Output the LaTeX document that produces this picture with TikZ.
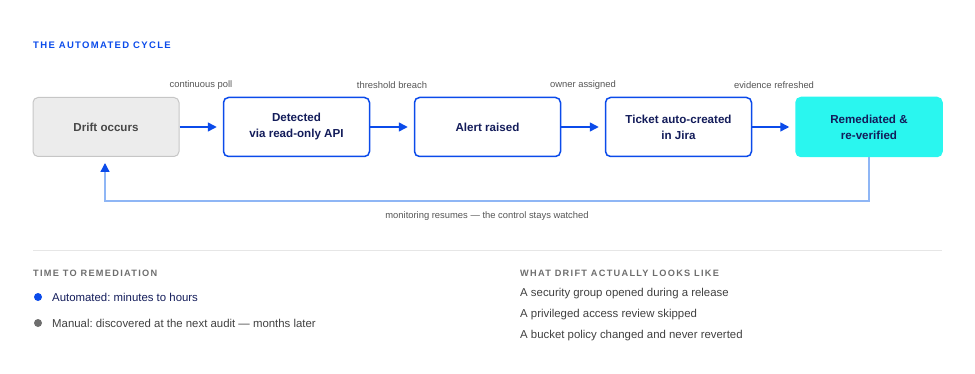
\documentclass[tikz,border=0pt]{standalone}
\usepackage{fontspec}
\setmainfont{Liberation Sans}
\newfontfamily\capsfont[LetterSpace=14]{Liberation Sans}
\usetikzlibrary{arrows.meta}
\frenchspacing
\definecolor{cblue}{HTML}{0B4BEA}
\definecolor{cnavy}{HTML}{131C5A}
\definecolor{clight}{HTML}{8FB6F5}
\definecolor{cgrayfill}{HTML}{ECECEC}
\definecolor{cgrayline}{HTML}{C6C6C6}
\definecolor{cgraytext}{HTML}{474747}
\definecolor{clabel}{HTML}{555555}
\definecolor{ccyan}{HTML}{2AF6EF}
\definecolor{crule}{HTML}{E6E6E6}
\definecolor{cbody}{HTML}{404040}
\definecolor{cdot}{HTML}{6E6E6E}
\begin{document}
\begin{tikzpicture}[x=1pt,y=-1pt,
  stepbox/.style={draw=cblue,line width=1.5pt,rounded corners=5pt,minimum width=146pt,minimum height=59pt,
    align=center,font=\fontsize{11.6}{16}\selectfont\bfseries,text=cnavy,inner sep=0pt},
  driftbox/.style={stepbox,draw=cgrayline,fill=cgrayfill,text=cgraytext,line width=1pt},
  donebox/.style={stepbox,draw=ccyan,fill=ccyan},
  flow/.style={draw=cblue,line width=1.5pt,-{Triangle[length=9pt,width=9pt]}},
  loopline/.style={draw=clight,line width=1.3pt,-{Triangle[length=9pt,width=9pt,color=cblue]}},
  steplabel/.style={font=\fontsize{9.4}{11}\selectfont,text=clabel,inner sep=0pt},
  head/.style={font=\fontsize{9.2}{11}\capsfont\bfseries,anchor=west,inner sep=0pt},
  body/.style={font=\fontsize{11.4}{13}\selectfont,anchor=west,inner sep=0pt,text=cbody},
  dot/.style={circle,inner sep=0pt,minimum size=8pt}
]
\useasboundingbox (0,0) rectangle (975,374);

\node[head,text=cblue,font=\fontsize{9.5}{11}\capsfont\bfseries] (title) at (33,45) {THE AUTOMATED CYCLE};

\node[driftbox] (drift) at (106,127) {Drift occurs};
\node[stepbox] (detect) at (296.5,127) {Detected\\via read-only API};
\node[stepbox] (alert) at (487.5,127) {Alert raised};
\node[stepbox] (ticket) at (678.5,127) {Ticket auto-created\\in Jira};
\node[donebox] (done) at (869,127) {Remediated \&\\re-verified};

\draw[flow] (drift.east) -- ([xshift=-6pt]detect.west);
\draw[flow] (detect.east) -- ([xshift=-6pt]alert.west);
\draw[flow] (alert.east) -- ([xshift=-6pt]ticket.west);
\draw[flow] (ticket.east) -- ([xshift=-6pt]done.west);

\node[steplabel] (l1) at (201,85) {continuous poll};
\node[steplabel] (l2) at (392,85) {threshold breach};
\node[steplabel] (l3) at (583,85) {owner assigned};
\node[steplabel] (l4) at (774,85) {evidence refreshed};

\coordinate (c1) at (869,201);
\coordinate (c2) at (105,201);
\draw[loopline] (done.south) -- (c1) -- (c2) -- ([yshift=-6pt]drift.south -| c2);
\node[steplabel] (loopl) at (487,216) {monitoring resumes — the control stays watched};

\draw[crule,line width=1pt] (33,251) coordinate (r1) -- (942,251) coordinate (r2);

\node[head,text=cdot] (h1) at (33,273) {TIME TO REMEDIATION};
\node[dot,fill=cblue] (d1) at (38,297) {};
\node[body,text=cnavy] (t1) at (52,297) {Automated: minutes to hours};
\node[dot,fill=cdot] (d2) at (38,323) {};
\node[body] (t2) at (52,323) {Manual: discovered at the next audit — months later};

\node[head,text=cdot] (h2) at (520,273) {WHAT DRIFT ACTUALLY LOOKS LIKE};
\node[body] (w1) at (520,294) {A security group opened during a release};
\node[body] (w2) at (520,315) {A privileged access review skipped};
\node[body] (w3) at (520,336) {A bucket policy changed and never reverted};
\end{tikzpicture}
\end{document}
